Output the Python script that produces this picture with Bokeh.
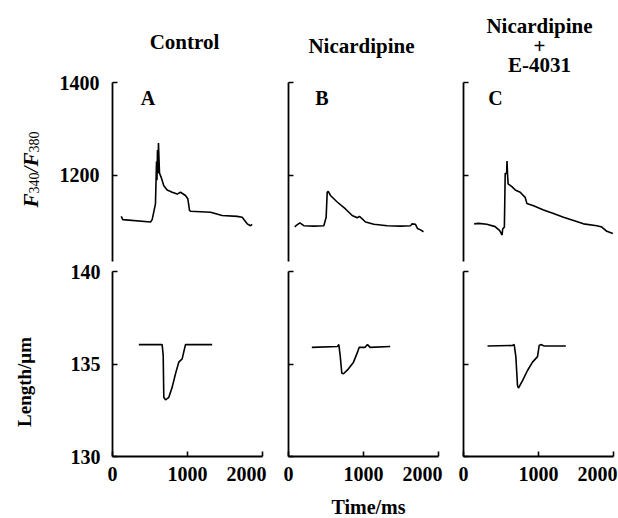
import math
from bokeh.plotting import figure
from bokeh.layouts import row
from bokeh.models import Label, FixedTicker, Range1d, LinearAxis
from bokeh.embed import file_html
from bokeh.resources import INLINE

# ---------------- data ----------------
conditions = [["Control"], ["Nicardipine"], ["Nicardipine", "+", "E-4031"]]
panel_letters = ["A", "B", "C"]

ratio_A_t = [116, 138, 507, 529, 573, 587, 593, 600, 607, 613, 620, 627, 649, 684, 729, 796, 862, 907, 973, 1004, 1027, 1040, 1307, 1462, 1662, 1729, 1796, 1840, 1862]
ratio_A_v = [1112, 1105, 1100, 1105, 1139, 1230, 1190, 1255, 1205, 1270, 1235, 1205, 1196, 1178, 1169, 1164, 1160, 1164, 1157, 1150, 1125, 1123, 1121, 1114, 1112, 1110, 1096, 1092, 1095]

ratio_B_t = [84, 100, 151, 204, 338, 471, 502, 516, 529, 560, 649, 760, 849, 916, 947, 1027, 1138, 1316, 1493, 1627, 1649, 1693, 1720, 1760, 1800]
ratio_B_v = [1089, 1092, 1098, 1092, 1091, 1092, 1110, 1164, 1166, 1157, 1143, 1128, 1114, 1109, 1112, 1100, 1095, 1092, 1091, 1092, 1096, 1095, 1086, 1083, 1079]

ratio_C_t = [143, 200, 311, 422, 444, 480, 515, 522, 545, 556, 575, 580, 588, 595, 645, 689, 756, 822, 845, 934, 1067, 1200, 1333, 1467, 1600, 1778, 1845, 1911, 1991]
ratio_C_v = [1096, 1097, 1095, 1090, 1087, 1082, 1072, 1085, 1089, 1204, 1205, 1231, 1200, 1182, 1176, 1169, 1164, 1153, 1140, 1135, 1126, 1118, 1110, 1103, 1096, 1092, 1089, 1080, 1075]

len_A_t = [351, 662, 676, 684, 707, 751, 796, 840, 884, 929, 973, 1329]
len_A_v = [136.05, 136.05, 135.46, 133.2, 133.06, 133.2, 133.75, 134.47, 135.1, 135.28, 136.05, 136.05]

len_B_t = [311, 653, 671, 689, 711, 733, 800, 867, 920, 943, 1022, 1053, 1089, 1356]
len_B_v = [135.9, 135.95, 136.05, 135.46, 134.5, 134.47, 134.74, 135.1, 135.64, 135.9, 135.9, 136.05, 135.9, 135.95]

len_C_t = [320, 653, 676, 698, 720, 733, 787, 853, 920, 987, 1009, 1031, 1076, 1364]
len_C_v = [135.97, 136.0, 136.05, 135.4, 133.84, 133.7, 134.1, 134.65, 135.1, 135.4, 136.0, 136.05, 135.97, 135.97]

x_ticks = [0, 1000, 2000]
ratio_ticks = [1200, 1400]
length_ticks = [130, 135, 140]
x_lim = (0, 2000)
ratio_lim = (1015, 1400)
length_lim = (130, 140)

ratio_series = [(ratio_A_t, ratio_A_v), (ratio_B_t, ratio_B_v), (ratio_C_t, ratio_C_v)]
length_series = [(len_A_t, len_A_v), (len_B_t, len_B_v), (len_C_t, len_C_v)]

# ---------------- layout geometry (page pixels) ----------------
FONT = "Liberation Serif"
TICK_SIZE = "20px"
PAGE_TOP, H = 0, 518
PAGE_BOT = PAGE_TOP + H
col_left = [0, 275, 450]
col_width = [275, 175, 168]
col_x0 = [112, 288, 463]          # page x of t = 0
FRAME_W = 150                      # px for 2000 ms
RATIO_Y = (82, 261)                # page y of 1400 and 1015
LEN_Y = (271, 456)                 # page y of 140 and 130

k = (x_lim[1] - x_lim[0]) / FRAME_W
r = (ratio_lim[1] - ratio_lim[0]) / (RATIO_Y[1] - RATIO_Y[0])
l = (length_lim[1] - length_lim[0]) / (LEN_Y[1] - LEN_Y[0])
ratio_range = (ratio_lim[0] - (PAGE_BOT - RATIO_Y[1]) * r, ratio_lim[1] + (RATIO_Y[0] - PAGE_TOP) * r)
length_range = (length_lim[0] - (PAGE_BOT - LEN_Y[1]) * l, length_lim[1] + (LEN_Y[0] - PAGE_TOP) * l)


def style_axis(ax, ticks, show_labels, standoff):
    ax.ticker = FixedTicker(ticks=ticks)
    ax.axis_line_width = 1.8
    ax.axis_line_color = "black"
    ax.major_tick_in = 5
    ax.major_tick_out = 0
    ax.major_tick_line_width = 1.6
    ax.minor_tick_in = 0
    ax.minor_tick_out = 0
    ax.major_label_text_font = FONT
    ax.major_label_text_font_style = "bold"
    ax.major_label_text_font_size = TICK_SIZE
    ax.major_label_text_color = "black"
    ax.major_label_standoff = standoff
    if not show_labels:
        ax.major_label_overrides = {t: "" for t in ticks}


figs = []
for i in range(3):
    left, w, x0 = col_left[i], col_width[i], col_x0[i]
    xr = Range1d(-(x0 - left) * k, (left + w - x0) * k)
    p = figure(width=w, height=H, x_range=xr, y_range=Range1d(*ratio_range),
               output_backend="svg", toolbar_location=None,
               x_axis_location=None, y_axis_location=None, min_border=0)
    p.extra_y_ranges = {"length": Range1d(*length_range)}
    p.grid.visible = False
    p.outline_line_color = None
    p.background_fill_color = "white"
    p.border_fill_color = "white"

    ax_r = LinearAxis(fixed_location=0, bounds=ratio_lim)
    style_axis(ax_r, ratio_ticks, i == 0, 13)
    p.add_layout(ax_r, "left")

    ax_l = LinearAxis(y_range_name="length", fixed_location=0, bounds=length_lim)
    style_axis(ax_l, length_ticks, i == 0, 12)
    p.add_layout(ax_l, "left")

    ax_t = LinearAxis(y_range_name="length", fixed_location=length_lim[0], bounds=x_lim)
    style_axis(ax_t, x_ticks, True, 10)
    ax_t.major_label_overrides = {2000: ""}
    p.add_layout(ax_t, "below")

    t, v = ratio_series[i]
    p.line(t, v, line_color="black", line_width=1.6)
    t, v = length_series[i]
    p.line(t, v, line_color="black", line_width=1.6, y_range_name="length")
    figs.append(p)


def lab(i, text, page_x, page_y, size="19px", style="bold", align="center", baseline="middle", angle=0.0):
    figs[i].add_layout(Label(x=page_x - col_left[i], y=PAGE_BOT - page_y, x_units="screen", y_units="screen",
                             text=text, text_font=FONT, text_font_size=size, text_font_style=style,
                             text_align=align, text_baseline=baseline, angle=angle, text_color="black"))


# last x tick label, right-aligned a little past its tick
for i in range(3):
    lab(i, "2000", col_x0[i] + FRAME_W + 4, LEN_Y[1] + 10, size=TICK_SIZE, align="right", baseline="top")

# column titles
title_x = [184, 361, 539]
title_y = [[41], [45], [25, 45, 64]]
for i, lines in enumerate(conditions):
    for line, y in zip(lines, title_y[i]):
        lab(i, line, title_x[i], y, size="21px")

# panel letters
letter_pos = [(147.5, 97.5), (321.5, 97.5), (495, 97)]
for i, L in enumerate(panel_letters):
    lab(i, L, letter_pos[i][0], letter_pos[i][1], size="20px")

# y label of ratio: F340/F380 (rotated, assembled from pieces)
up = math.pi / 2
lab(0, "F", 30, 207, size="21px", style="bold italic", align="left", baseline="alphabetic", angle=up)
lab(0, "340", 33, 193, size="14px", style="normal", align="left", baseline="alphabetic", angle=up)
lab(0, "/", 30, 172, size="21px", style="italic", align="left", baseline="alphabetic", angle=up)
lab(0, "F", 30, 166, size="21px", style="bold italic", align="left", baseline="alphabetic", angle=up)
lab(0, "380", 33, 152, size="14px", style="normal", align="left", baseline="alphabetic", angle=up)

# y label of length
lab(0, "Length/\u03bcm", 23.5, 381.5, size="19px", angle=up)

# x label
lab(1, "Time/ms", 368, 506, size="20px")

layout = row(*figs)
open("out.html", "w").write(file_html(layout, INLINE))
